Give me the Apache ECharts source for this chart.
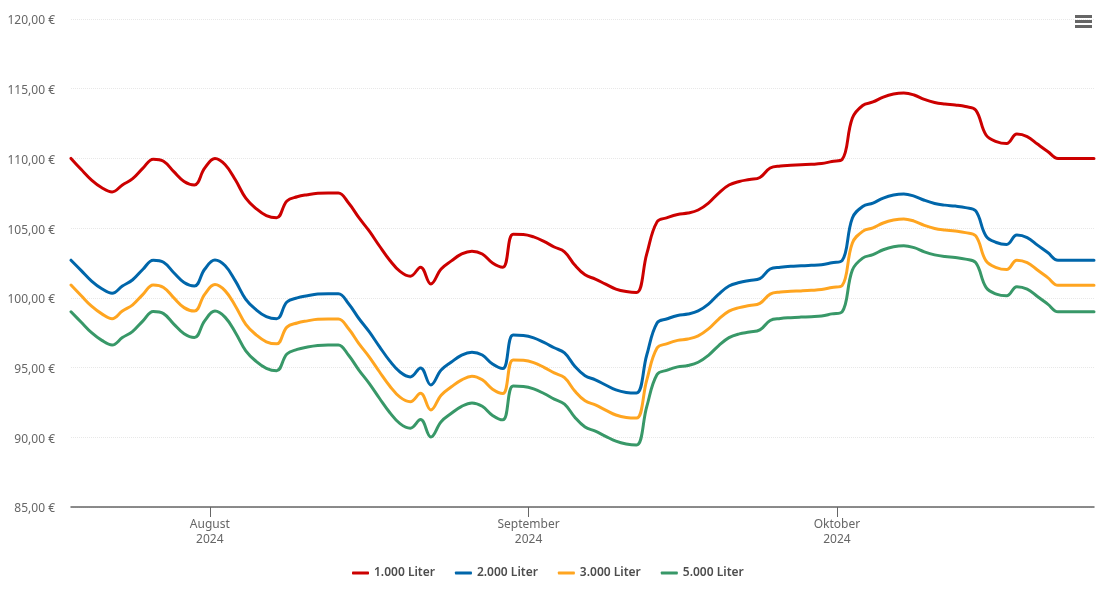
<!DOCTYPE html>
<html lang="de">
<head>
<meta charset="utf-8">
<title>Preisentwicklung</title>
<script src="https://cdn.jsdelivr.net/npm/echarts@6/dist/echarts.min.js"></script>
<style>
  html, body { margin: 0; padding: 0; background: #fff; }
  #chart { width: 1105px; height: 602px; }
</style>
</head>
<body>
<div id="chart"></div>
<script>
const seriesNames = ["1.000 Liter", "2.000 Liter", "3.000 Liter", "5.000 Liter"];
const seriesColors = ["#cc0000", "#0066aa", "#ffa520", "#389868"];
const monthNames = ["August", "September", "Oktober"];
const monthTicks = [new Date(2024, 7, 1).getTime(), new Date(2024, 8, 1).getTime(), new Date(2024, 9, 1).getTime()];

// one value per day from 18.07.2024, the last one closes the line at the right edge
const liter1000 = [110.0,109.2,108.45,107.9,107.6,108.1,108.55,109.3,109.95,109.8,109.05,108.35,108.1,109.3,110.0,109.55,108.45,107.15,106.4,105.9,105.75,106.95,107.25,107.4,107.5,107.52,107.52,106.8,105.75,104.8,103.72,102.7,101.9,101.55,102.2,101.0,102.07,102.65,103.15,103.35,103.15,102.5,102.2,104.57,104.55,104.37,104.05,103.65,103.3,102.35,101.65,101.35,100.98,100.63,100.45,100.38,103.15,105.45,105.75,105.98,106.08,106.3,106.8,107.52,108.09,108.35,108.49,108.63,109.31,109.46,109.51,109.55,109.58,109.63,109.78,109.92,112.9,113.8,114.05,114.4,114.62,114.69,114.55,114.23,114.01,113.9,113.83,113.72,113.47,111.68,111.21,111.07,111.75,111.57,111.03,110.5,110.0,110.0,110.0,110.0,110.0];
const liter2000 = [102.7,101.95,101.2,100.65,100.33,100.85,101.3,102.05,102.7,102.55,101.8,101.1,100.85,102.05,102.72,102.3,101.2,99.9,99.15,98.65,98.5,99.7,100.0,100.15,100.27,100.3,100.3,99.58,98.52,97.57,96.5,95.48,94.68,94.33,94.97,93.75,94.82,95.4,95.9,96.1,95.9,95.25,94.93,97.33,97.3,97.13,96.8,96.42,96.05,95.1,94.42,94.12,93.75,93.4,93.22,93.18,95.9,98.2,98.5,98.74,98.84,99.06,99.55,100.27,100.85,101.1,101.25,101.38,102.07,102.2,102.27,102.3,102.33,102.38,102.52,102.67,105.73,106.55,106.8,107.16,107.38,107.45,107.3,107.0,106.77,106.65,106.58,106.47,106.23,104.43,103.97,103.83,104.5,104.32,103.78,103.25,102.7,102.7,102.7,102.7,102.7];
const liter3000 = [100.92,100.15,99.4,98.85,98.5,99.05,99.5,100.25,100.92,100.75,100.0,99.3,99.05,100.25,100.95,100.5,99.4,98.1,97.35,96.85,96.7,97.9,98.2,98.35,98.46,98.48,98.48,97.78,96.72,95.77,94.7,93.68,92.88,92.55,93.15,91.96,93.02,93.62,94.12,94.38,94.12,93.45,93.14,95.55,95.52,95.35,95.02,94.62,94.27,93.32,92.62,92.32,91.95,91.6,91.42,91.38,94.1,96.4,96.72,96.95,97.05,97.27,97.77,98.48,99.05,99.3,99.45,99.6,100.27,100.42,100.47,100.5,100.54,100.6,100.74,100.88,103.93,104.77,105.02,105.37,105.58,105.66,105.5,105.2,104.98,104.87,104.8,104.68,104.44,102.65,102.17,102.03,102.7,102.53,102.0,101.45,100.9,100.9,100.9,100.9,100.9];
const liter5000 = [99.0,98.25,97.5,96.95,96.62,97.15,97.6,98.35,99.02,98.87,98.12,97.42,97.15,98.35,99.05,98.6,97.5,96.2,95.45,94.95,94.78,95.97,96.3,96.47,96.58,96.62,96.62,95.88,94.82,93.87,92.8,91.78,90.98,90.65,91.27,90.02,91.12,91.72,92.22,92.46,92.22,91.57,91.25,93.67,93.64,93.47,93.14,92.74,92.38,91.44,90.74,90.44,90.07,89.72,89.52,89.45,92.2,94.5,94.82,95.05,95.15,95.38,95.88,96.58,97.15,97.42,97.55,97.7,98.38,98.52,98.58,98.62,98.65,98.7,98.85,99.0,102.0,102.85,103.1,103.45,103.67,103.74,103.6,103.3,103.08,102.96,102.9,102.78,102.52,100.75,100.27,100.15,100.8,100.63,100.1,99.55,99.0,99.0,99.0,99.0,99.0];

const seriesValues = [liter1000, liter2000, liter3000, liter5000];
const dayTimes = liter1000.map((v, i) =>
  i === liter1000.length - 1
    ? new Date(2024, 9, 26).getTime()
    : new Date(2024, 6, 18 + i, 12).getTime()
);

const fontFamily = '"Noto Sans", sans-serif';
const myChart = echarts.init(document.getElementById("chart"));

const option = {
  animation: false,
  textStyle: { fontFamily },
  toolbox: {
    right: 13,
    top: 15,
    padding: 0,
    itemSize: 17,
    feature: {
      myMenu: {
        show: true,
        title: "Menü",
        icon: "path://M0 0H17V3H0ZM0 5H17V8H0ZM0 10H17V13H0Z",
        iconStyle: { color: "#666666", borderWidth: 0 },
        onclick: () => {},
      },
    },
  },
  legend: {
    left: 352,
    top: 567,
    padding: 0,
    itemGap: 20,
    itemWidth: 17,
    itemHeight: 3,
    icon: "roundRect",
    textStyle: { color: "#4d4d4d", fontSize: 12, fontWeight: 600, fontFamily },
  },
  grid: { left: 71, right: 11, top: 19, bottom: 95 },
  xAxis: {
    // plain numeric axis over timestamps, ticks only at the month starts
    type: "value",
    min: dayTimes[0],
    max: dayTimes[dayTimes.length - 1],
    axisLine: { lineStyle: { color: "#666666", width: 1.5 } },
    axisTick: { length: 10, customValues: monthTicks, lineStyle: { color: "#666666" } },
    splitLine: { show: false },
    axisLabel: {
      customValues: monthTicks,
      color: "#666666",
      fontSize: 12,
      lineHeight: 15,
      margin: 10,
      hideOverlap: false,
      formatter: (value) => monthNames[monthTicks.indexOf(value)] + "\n2024",
    },
  },
  yAxis: {
    type: "value",
    min: 85,
    max: 120,
    interval: 5,
    axisLine: { show: false },
    axisTick: { show: false },
    splitLine: { lineStyle: { color: "#e8e8e8", type: "dotted", width: 1 } },
    axisLabel: {
      color: "#666666",
      fontSize: 12,
      margin: 16,
      // labels sit 2px below their grid line
      verticalAlign: "top",
      lineHeight: 4,
      formatter: (value) => value.toFixed(2).replace(".", ",") + " €",
    },
  },
  series: seriesNames.map((name, s) => ({
    name,
    type: "line",
    smooth: 0.4,
    showSymbol: false,
    color: seriesColors[s],
    lineStyle: { width: 3, cap: "round", join: "round" },
    data: dayTimes.map((t, i) => [t, seriesValues[s][i]]),
  })),
};

myChart.setOption(option);
window.addEventListener("resize", () => myChart.resize());
</script>
</body>
</html>
